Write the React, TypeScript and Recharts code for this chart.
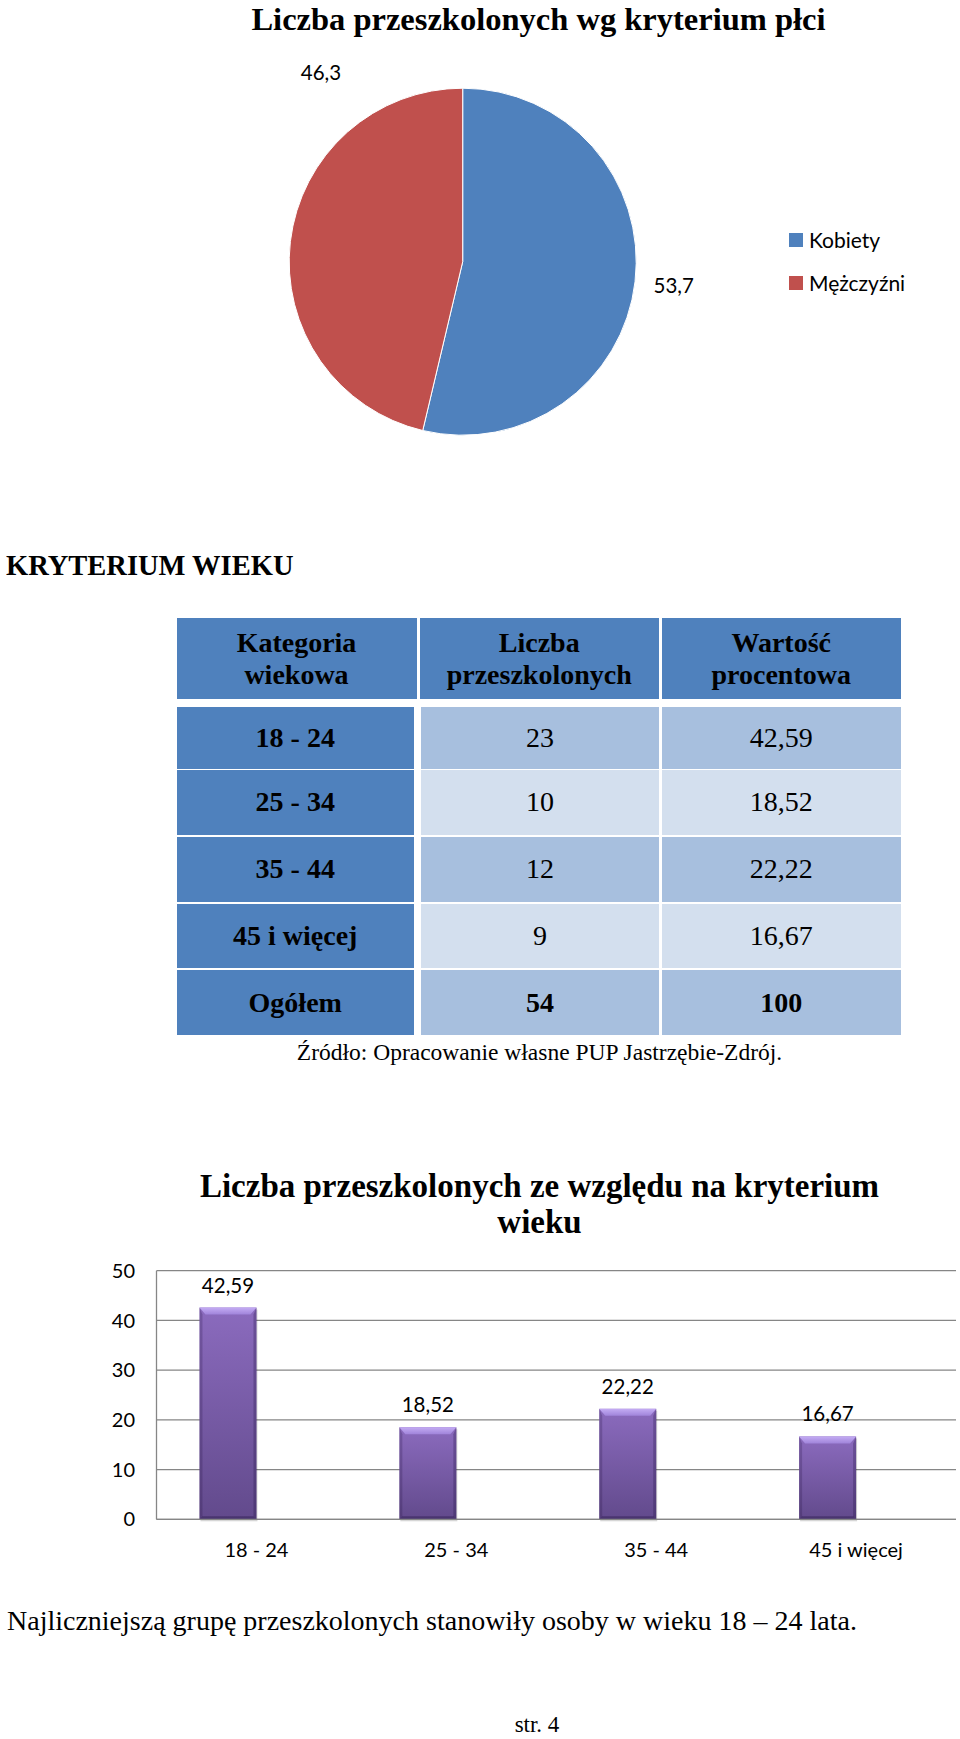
import React from 'react';
import {
  PieChart,
  Pie,
  Legend,
  BarChart,
  Bar,
  XAxis,
  YAxis,
  CartesianGrid,
  LabelList,
} from 'recharts';

// ---------- data ----------
const genderCategories = ['Kobiety', 'Mężczyźni'];
const genderValues = [53.7, 46.3];
const genderColors = ['#4F81BD', '#C0504D'];

const ageCategories = ['18 - 24', '25 - 34', '35 - 44', '45 i więcej'];
const ageCounts = [23, 10, 12, 9];
const agePercents = [42.59, 18.52, 22.22, 16.67];
const totalLabel = 'Ogółem';
const totalCount = 54;
const totalPercent = 100;
const tableHeaders = ['Kategoria\nwiekowa', 'Liczba\nprzeszkolonych', 'Wartość\nprocentowa'];
const emptySeries = [null, null, null, null];
const yTicks = [0, 10, 20, 30, 40, 50];

const pieData = genderCategories.map((name, i) => ({
  name,
  value: genderValues[i],
  fill: genderColors[i],
}));
const barData = ageCategories.map((name, i) => ({
  name,
  value: agePercents[i],
  second: emptySeries[i],
}));

// ---------- helpers ----------
const SERIF = '"Liberation Serif", "Times New Roman", serif';
const SANS = 'Lato, "Open Sans", sans-serif';
const RAD = Math.PI / 180;
const fmt1 = (v: number) => v.toFixed(1).replace('.', ',');
const fmt2 = (v: any) => (v == null ? '' : Number(v).toFixed(2).replace('.', ','));

const pieLabel = (p: any) => {
  const { cx, cy, outerRadius, midAngle, index, value } = p;
  const angle = index === 0 ? midAngle : 127;
  const r = outerRadius + (index === 0 ? 39 : 62);
  const x = cx + r * Math.cos(-angle * RAD);
  const y = cy + r * Math.sin(-angle * RAD) - 1.5;
  return (
    <text
      x={x}
      y={y}
      textAnchor="middle"
      dominantBaseline="central"
      fontFamily={SANS}
      fontSize={20.5}
      fill="#000"
    >
      {fmt1(value)}
    </text>
  );
};

const renderLegend = (props: any) => {
  const payload = props.payload || [];
  return (
    <div>
      {payload.map((entry: any, i: number) => (
        <div
          key={i}
          style={{ display: 'flex', alignItems: 'center', height: 20, marginBottom: 23 }}
        >
          <span
            style={{
              display: 'inline-block',
              width: 14,
              height: 14,
              background: genderColors[i],
              marginRight: 6,
            }}
          />
          <span style={{ fontFamily: SANS, fontSize: 21, lineHeight: '20px', color: '#000' }}>
            {entry.value}
          </span>
        </div>
      ))}
    </div>
  );
};

const PurpleBar = (props: any) => {
  const { x, y, width, height, index } = props;
  if (height == null || height <= 0 || !width) return null;
  const t = Math.min(7, height / 2);
  const s = 3;
  const id = `bb${index}`;
  return (
    <g>
      <defs>
        <linearGradient id={`${id}body`} x1="0" y1="0" x2="0" y2="1">
          <stop offset="0%" stopColor="#8B6BBE" />
          <stop offset="100%" stopColor="#624A8C" />
        </linearGradient>
        <linearGradient id={`${id}top`} x1="0" y1="0" x2="0" y2="1">
          <stop offset="0%" stopColor="#C4ACF4" />
          <stop offset="100%" stopColor="#A084DA" />
        </linearGradient>
      </defs>
      <rect x={x + 1} y={y + 2} width={width} height={height} fill="rgba(0,0,0,0.16)" />
      <rect x={x} y={y} width={width} height={height} fill={`url(#${id}body)`} />
      <polygon
        points={`${x},${y + height} ${x + s},${y + height - s} ${x + width - s},${y + height - s} ${x + width},${y + height}`}
        fill="rgba(30,15,60,0.35)"
      />
      <polygon
        points={`${x},${y} ${x + s},${y + t} ${x + s},${y + height - s} ${x},${y + height}`}
        fill="rgba(30,15,60,0.22)"
      />
      <polygon
        points={`${x + width},${y} ${x + width - s},${y + t} ${x + width - s},${y + height - s} ${x + width},${y + height}`}
        fill="rgba(30,15,60,0.28)"
      />
      <polygon
        points={`${x},${y} ${x + width},${y} ${x + width - s - 3},${y + t} ${x + s + 3},${y + t}`}
        fill={`url(#${id}top)`}
      />
    </g>
  );
};

// ---------- table geometry ----------
const BLUE = '#4F81BD';
const MID = '#A7BFDE';
const LIGHT = '#D3DFEE';
const headerCols = [
  [176.5, 416.5],
  [419.5, 659],
  [661.5, 901],
];
const bodyCols = [
  [176.5, 414],
  [421, 659],
  [661.5, 901],
];
const headerRow = [618, 699];
const bodyRows = [
  [706.5, 768.5],
  [770, 834.5],
  [836.5, 902],
  [904, 967.5],
  [970, 1035],
];

const Cell = ({ x0, x1, y0, y1, bg, bold, children }: any) => (
  <div
    style={{
      position: 'absolute',
      left: x0,
      top: y0,
      width: x1 - x0,
      height: y1 - y0,
      background: bg,
      display: 'flex',
      alignItems: 'center',
      justifyContent: 'center',
      fontFamily: SERIF,
      fontSize: 28,
      fontWeight: bold ? 'bold' : 'normal',
      color: '#000',
      textAlign: 'center',
      whiteSpace: 'pre-line',
      lineHeight: '32px',
    }}
  >
    {children}
  </div>
);

const AgeTable = () => {
  const rows = ageCategories.map((c, i) => ({
    label: c,
    count: String(ageCounts[i]),
    pct: fmt2(agePercents[i]),
    bold: false,
  }));
  rows.push({ label: totalLabel, count: String(totalCount), pct: String(totalPercent), bold: true });
  return (
    <>
      {tableHeaders.map((h, c) => (
        <Cell
          key={`h${c}`}
          x0={headerCols[c][0]}
          x1={headerCols[c][1]}
          y0={headerRow[0]}
          y1={headerRow[1]}
          bg={BLUE}
          bold
        >
          {h}
        </Cell>
      ))}
      {rows.map((r, i) => {
        const bg = i % 2 === 0 ? MID : LIGHT;
        const [y0, y1] = bodyRows[i];
        return (
          <React.Fragment key={`r${i}`}>
            <Cell x0={bodyCols[0][0]} x1={bodyCols[0][1]} y0={y0} y1={y1} bg={BLUE} bold>
              {r.label}
            </Cell>
            <Cell x0={bodyCols[1][0]} x1={bodyCols[1][1]} y0={y0} y1={y1} bg={bg} bold={r.bold}>
              {r.count}
            </Cell>
            <Cell x0={bodyCols[2][0]} x1={bodyCols[2][1]} y0={y0} y1={y1} bg={bg} bold={r.bold}>
              {r.pct}
            </Cell>
          </React.Fragment>
        );
      })}
    </>
  );
};

export default function App() {
  const axisStroke = '#868686';
  const tickStyle = { fill: '#000', fontSize: 20, fontFamily: SANS };
  return (
    <div
      style={{
        position: 'absolute',
        left: 0,
        top: 0,
        width: 960,
        height: 1739,
        background: '#fff',
        overflow: 'hidden',
      }}
    >
      {/* static page text */}
      <svg
        width={960}
        height={1739}
        style={{ position: 'absolute', left: 0, top: 0 }}
      >
        <text x={538.5} y={29.5} textAnchor="middle" fontFamily={SERIF} fontWeight="bold" fontSize={32.5} fill="#000">
          Liczba przeszkolonych wg kryterium płci
        </text>
        <text x={6} y={575} fontFamily={SERIF} fontWeight="bold" fontSize={28.5} fill="#000">
          KRYTERIUM WIEKU
        </text>
        <text x={539.5} y={1060} textAnchor="middle" fontFamily={SERIF} fontSize={23.5} fill="#000">
          Źródło: Opracowanie własne PUP Jastrzębie-Zdrój.
        </text>
        <text x={539.5} y={1197} textAnchor="middle" fontFamily={SERIF} fontWeight="bold" fontSize={33} fill="#000">
          Liczba przeszkolonych ze względu na kryterium
        </text>
        <text x={539.5} y={1233} textAnchor="middle" fontFamily={SERIF} fontWeight="bold" fontSize={33} fill="#000">
          wieku
        </text>
        <text x={7} y={1630} fontFamily={SERIF} fontSize={28} fill="#000">
          Najliczniejszą grupę przeszkolonych stanowiły osoby w wieku 18 – 24 lata.
        </text>
        <text x={537} y={1732} textAnchor="middle" fontFamily={SERIF} fontSize={23} fill="#000">
          str. 4
        </text>
      </svg>

      {/* pie chart */}
      <div style={{ position: 'absolute', left: 0, top: 0 }}>
        <PieChart width={960} height={480} margin={{ top: 0, right: 0, bottom: 0, left: 0 }}>
          <Pie
            data={pieData}
            dataKey="value"
            nameKey="name"
            cx={462.7}
            cy={261.7}
            outerRadius={173.5}
            startAngle={90}
            endAngle={-270}
            stroke="#ffffff"
            strokeWidth={1}
            label={pieLabel}
            labelLine={false}
            isAnimationActive={false}
          />
          <Legend
            layout="vertical"
            align="right"
            verticalAlign="top"
            content={renderLegend}
            wrapperStyle={{ position: 'absolute', left: 789, top: 230, width: 160 }}
          />
        </PieChart>
      </div>

      {/* table */}
      <AgeTable />

      {/* bar chart */}
      <div style={{ position: 'absolute', left: 0, top: 1250 }}>
        <BarChart
          width={960}
          height={330}
          data={barData}
          margin={{ top: 20.7, right: 4, bottom: 10.7, left: 0 }}
          barGap={0}
          barCategoryGap="21.5%"
        >
          <CartesianGrid vertical={false} stroke={axisStroke} strokeWidth={1.3} />
          <XAxis
            dataKey="name"
            interval={0}
            tickLine={false}
            tickSize={0}
            tickMargin={23}
            height={50}
            axisLine={{ stroke: axisStroke, strokeWidth: 1.3 }}
            tick={tickStyle}
          />
          <YAxis
            domain={[0, 50]}
            ticks={yTicks}
            tickLine={false}
            tickSize={0}
            tickMargin={21.5}
            width={156.5}
            axisLine={{ stroke: axisStroke, strokeWidth: 1.3 }}
            tick={tickStyle}
          />
          <Bar dataKey="value" shape={<PurpleBar />} isAnimationActive={false}>
            <LabelList
              dataKey="value"
              position="top"
              offset={15}
              formatter={fmt2}
              fill="#000"
              fontSize={20.5}
              fontFamily={SANS}
            />
          </Bar>
          <Bar dataKey="second" shape={<PurpleBar />} isAnimationActive={false} legendType="none" />
        </BarChart>
      </div>
    </div>
  );
}
